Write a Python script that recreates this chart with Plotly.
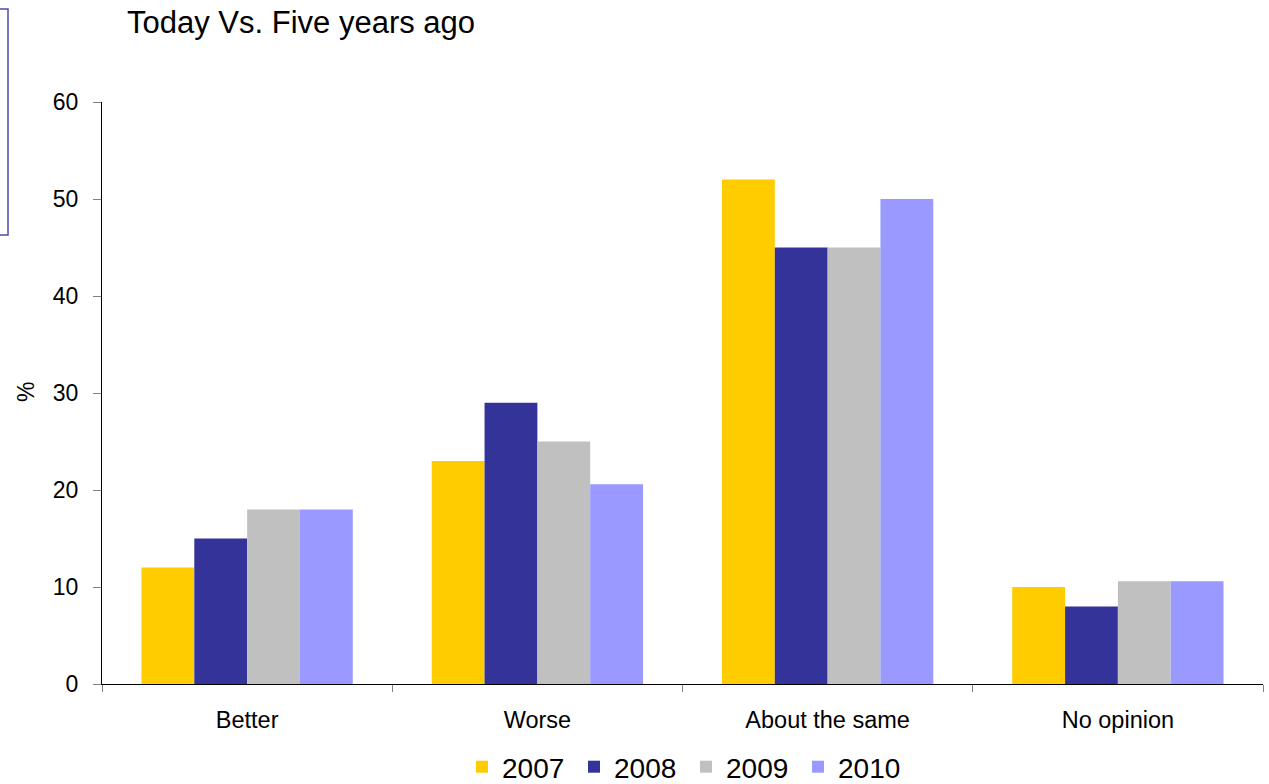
import plotly.graph_objects as go

# Survey responses: "Today vs. five years ago" (%)
categories = ["Better", "Worse", "About the same", "No opinion"]
years = ["2007", "2008", "2009", "2010"]
values_2007 = [12, 23, 52, 10]
values_2008 = [15, 29, 45, 8]
values_2009 = [18, 25, 45, 10.6]
values_2010 = [18, 20.6, 50, 10.6]
y_ticks = [0, 10, 20, 30, 40, 50, 60]

series = [values_2007, values_2008, values_2009, values_2010]
colors = ["#FFCC00", "#333399", "#C0C0C0", "#9999FF"]

W, H = 1269, 784
ML, MR, MT, MB = 102, 6, 102, 100
PW, PH = W - ML - MR, H - MT - MB
FONT = "Liberation Sans, Arial, sans-serif"


def px_to_paper_x(px):
    return (px - ML) / PW


def px_to_paper_y(py):
    return (H - MB - py) / PH


fig = go.Figure()
for name, vals, col in zip(years, series, colors):
    fig.add_trace(go.Bar(
        x=categories, y=vals, name=name,
        marker=dict(color=col, line=dict(width=0)),
    ))

fig.update_layout(
    width=W, height=H,
    margin=dict(l=ML, r=MR, t=MT, b=MB, pad=0),
    paper_bgcolor="white", plot_bgcolor="white",
    font=dict(family=FONT, color="black"),
    barmode="group", bargap=0.272, bargroupgap=0,
    title=dict(
        text="Today Vs. Five years ago",
        font=dict(family=FONT, size=31, color="black"),
        x=127 / W, xanchor="left", xref="container",
        y=(H - 22) / H, yanchor="middle", yref="container",
    ),
    legend=dict(
        orientation="h",
        x=686 / W, xanchor="center", xref="container",
        y=(H - 767) / H, yanchor="middle", yref="container",
        font=dict(family=FONT, size=28, color="black"),
        itemwidth=30, tracegroupgap=0, entrywidth=67,
    ),
    showlegend=True,
)

fig.update_xaxes(
    showline=True, linecolor="black", linewidth=1,
    ticks="outside", tickson="boundaries", ticklen=7, tickcolor="#808080",
    tickfont=dict(family=FONT, size=23.5, color="black"),
    ticklabelstandoff=15,
    showgrid=False, zeroline=False,
)
fig.update_yaxes(
    range=[0, 60], tickvals=y_ticks,
    showline=True, linecolor="black", linewidth=1,
    ticks="outside", ticklen=8, tickcolor="#808080",
    tickfont=dict(family=FONT, size=23, color="black"),
    ticklabelstandoff=10,
    showgrid=False, zeroline=False,
)

# rotated axis title
fig.add_annotation(
    text="%", textangle=-90, showarrow=False,
    xref="paper", yref="paper",
    x=px_to_paper_x(26), y=px_to_paper_y(392),
    xanchor="center", yanchor="middle",
    font=dict(family=FONT, size=23, color="black"),
)

# framed box at the left edge
fig.add_shape(
    type="rect", xref="paper", yref="paper",
    x0=px_to_paper_x(-20), x1=px_to_paper_x(8),
    y0=px_to_paper_y(235), y1=px_to_paper_y(9),
    line=dict(color="#4B4BA8", width=1.5), fillcolor="rgba(0,0,0,0)",
)

fig.write_html("out.html")
